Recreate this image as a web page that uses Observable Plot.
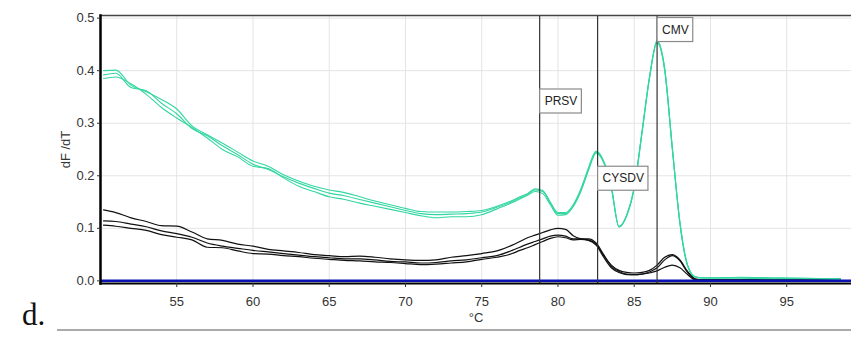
<!DOCTYPE html>
<html><head><meta charset="utf-8">
<script src="https://cdn.jsdelivr.net/npm/d3@7"></script>
<script src="https://cdn.jsdelivr.net/npm/@observablehq/plot@0.6"></script>
<style>
body{margin:0;background:#fff;}
#wrap{position:relative;width:851px;height:337px;overflow:hidden;}
#panel{position:absolute;left:22px;top:299px;font-family:"Liberation Serif","Times New Roman",serif;font-size:31px;line-height:1;color:#111;}
#rule{position:absolute;left:57px;right:0;top:329px;border-top:2px solid #aaa;}
</style></head><body>
<div id="wrap"><div id="chart"></div><div id="panel">d.</div><div id="rule"></div></div>
<script>
const temps = [50.2,51,52,53,54,55,56,57,58,59,60,61,62,63,64,65,66,67,68,69,70,71,72,73,74,75,76,77,77.5,78,78.5,79,79.5,80,80.5,81,81.5,82,82.5,83,83.5,84,84.5,85,85.5,86,86.5,87,87.5,88,88.5,89,89.5,90,92,94,96,98.5];

const greenA = [0.400,0.401,0.372,0.360,0.345,0.327,0.295,0.278,0.262,0.245,0.228,0.218,0.202,0.190,0.180,0.173,0.168,0.160,0.152,0.145,0.138,0.132,0.131,0.131,0.132,0.134,0.142,0.153,0.160,0.166,0.175,0.172,0.150,0.130,0.130,0.145,0.175,0.215,0.247,0.228,0.180,0.102,0.125,0.177,0.280,0.386,0.458,0.405,0.255,0.110,0.030,0.008,0.006,0.006,0.007,0.006,0.005,0.004];
const greenB = [0.392,0.395,0.368,0.362,0.338,0.318,0.290,0.276,0.257,0.240,0.222,0.212,0.198,0.186,0.176,0.167,0.162,0.155,0.148,0.141,0.134,0.128,0.126,0.127,0.128,0.131,0.140,0.151,0.158,0.165,0.173,0.170,0.148,0.128,0.128,0.143,0.172,0.212,0.245,0.226,0.178,0.104,0.124,0.178,0.282,0.388,0.455,0.402,0.252,0.112,0.030,0.008,0.006,0.006,0.006,0.005,0.005,0.003];
const greenC = [0.385,0.388,0.375,0.355,0.330,0.310,0.292,0.272,0.250,0.236,0.218,0.214,0.196,0.180,0.170,0.160,0.155,0.148,0.142,0.136,0.130,0.124,0.120,0.122,0.122,0.126,0.137,0.149,0.156,0.163,0.170,0.166,0.145,0.125,0.126,0.141,0.170,0.210,0.243,0.225,0.176,0.103,0.123,0.176,0.278,0.385,0.453,0.400,0.250,0.108,0.028,0.007,0.005,0.005,0.005,0.004,0.004,0.003];

const blackA = [0.135,0.130,0.120,0.113,0.105,0.104,0.093,0.080,0.077,0.070,0.066,0.060,0.057,0.054,0.050,0.048,0.046,0.047,0.045,0.042,0.040,0.039,0.040,0.045,0.048,0.052,0.057,0.068,0.075,0.082,0.087,0.092,0.097,0.100,0.098,0.086,0.080,0.078,0.070,0.048,0.030,0.020,0.016,0.015,0.016,0.020,0.030,0.045,0.050,0.040,0.018,0.004,0.002,0.002,0.002,0.002,0.002,0.004];
const blackB = [0.114,0.113,0.108,0.103,0.095,0.090,0.083,0.072,0.066,0.062,0.058,0.055,0.052,0.049,0.046,0.044,0.042,0.042,0.040,0.037,0.036,0.034,0.035,0.038,0.040,0.044,0.048,0.058,0.064,0.070,0.075,0.080,0.085,0.087,0.085,0.080,0.080,0.080,0.072,0.050,0.028,0.018,0.013,0.012,0.013,0.017,0.025,0.040,0.048,0.038,0.016,0.003,0.002,0.002,0.002,0.002,0.002,0.003];
const blackC = [0.106,0.104,0.100,0.096,0.088,0.083,0.078,0.064,0.063,0.057,0.052,0.051,0.048,0.046,0.043,0.041,0.039,0.038,0.036,0.035,0.033,0.031,0.032,0.034,0.036,0.041,0.045,0.052,0.058,0.063,0.069,0.075,0.081,0.084,0.082,0.078,0.079,0.077,0.068,0.045,0.025,0.016,0.012,0.012,0.013,0.015,0.019,0.026,0.030,0.025,0.012,0.002,0.001,0.001,0.001,0.001,0.001,0.002];

const markerNames = ["PRSV","CYSDV","CMV"];
const markerTemps = [78.8,82.6,86.5];
const markerLabelY = [0.342,0.195,0.478];

const xTicks = [55,60,65,70,75,80,85,90,95];
const yTicks = [0,0.1,0.2,0.3,0.4,0.5];

const seriesList = [
  {name:"g1", group:"green", vals:greenA},
  {name:"g2", group:"green", vals:greenB},
  {name:"g3", group:"green", vals:greenC},
  {name:"b1", group:"black", vals:blackA},
  {name:"b2", group:"black", vals:blackB},
  {name:"b3", group:"black", vals:blackC}
];
const rows = seriesList.flatMap(s => temps.map((t,i) => ({t, v:s.vals[i], id:s.name, group:s.group})));
const markers = markerNames.map((n,i) => ({name:n, t:markerTemps[i], ly:markerLabelY[i]}));

const chart = Plot.plot({
  width: 851, height: 337,
  marginLeft: 100, marginRight: 0, marginTop: 15, marginBottom: 54,
  style: {fontFamily: "'Liberation Sans', Arial, sans-serif", fontSize: "13px", color: "#333", background: "#fff"},
  x: {domain: [50, 99.25]},
  y: {domain: [-0.005, 0.505]},
  marks: [
    Plot.gridX(xTicks, {stroke: "#e4e4e4", strokeOpacity: 1}),
    Plot.gridY(yTicks, {stroke: "#e4e4e4", strokeOpacity: 1}),
    Plot.line(rows.filter(d => d.group === "black"), {x: "t", y: "v", z: "id", stroke: "#111", strokeWidth: 1.2, curve: "monotone-x"}),
    Plot.line(rows.filter(d => d.group === "green"), {x: "t", y: "v", z: "id", stroke: "#34d6a2", strokeWidth: 1.1, curve: "monotone-x"}),
    Plot.ruleY([0], {stroke: "#0a12b4", strokeWidth: 2.5}),
    Plot.ruleX(markers, {x: "t", stroke: "#333", strokeWidth: 1.2}),
    Plot.text(markers, {x: "t", y: "ly", text: "name", textAnchor: "start", dx: 5, fontSize: 12, fill: "#222", className: "mlabel"}),
    Plot.frame({anchor: "top", stroke: "#444", strokeWidth: 1.5}),
    Plot.frame({anchor: "bottom", stroke: "#000", strokeWidth: 2}),
    Plot.frame({anchor: "left", stroke: "#000", strokeWidth: 2.5}),
    Plot.axisX(xTicks, {tickSize: 4, tickPadding: 9, label: "°C", labelAnchor: "center", labelArrow: "none", labelOffset: 38, stroke: "#333"}),
    Plot.axisY(yTicks, {tickSize: 3, tickPadding: 3, tickFormat: ".1f", label: "dF /dT", labelAnchor: "center", labelArrow: "none", labelOffset: 40, stroke: "#333"})
  ]
});
document.getElementById("chart").appendChild(chart);

// draw boxes behind marker labels
const svgNS = "http://www.w3.org/2000/svg";
chart.querySelectorAll("g.mlabel text").forEach(t => {
  const b = t.getBBox();
  const r = document.createElementNS(svgNS, "rect");
  r.setAttribute("x", b.x - 5);
  r.setAttribute("y", b.y - 5);
  r.setAttribute("width", b.width + 9);
  r.setAttribute("height", b.height + 10);
  r.setAttribute("fill", "#fff");
  r.setAttribute("stroke", "#8a8a8a");
  r.setAttribute("stroke-width", "1.2");
  const tr = t.getAttribute("transform");
  if (tr) r.setAttribute("transform", tr);
  t.parentNode.insertBefore(r, t);
});
</script>
</body></html>
